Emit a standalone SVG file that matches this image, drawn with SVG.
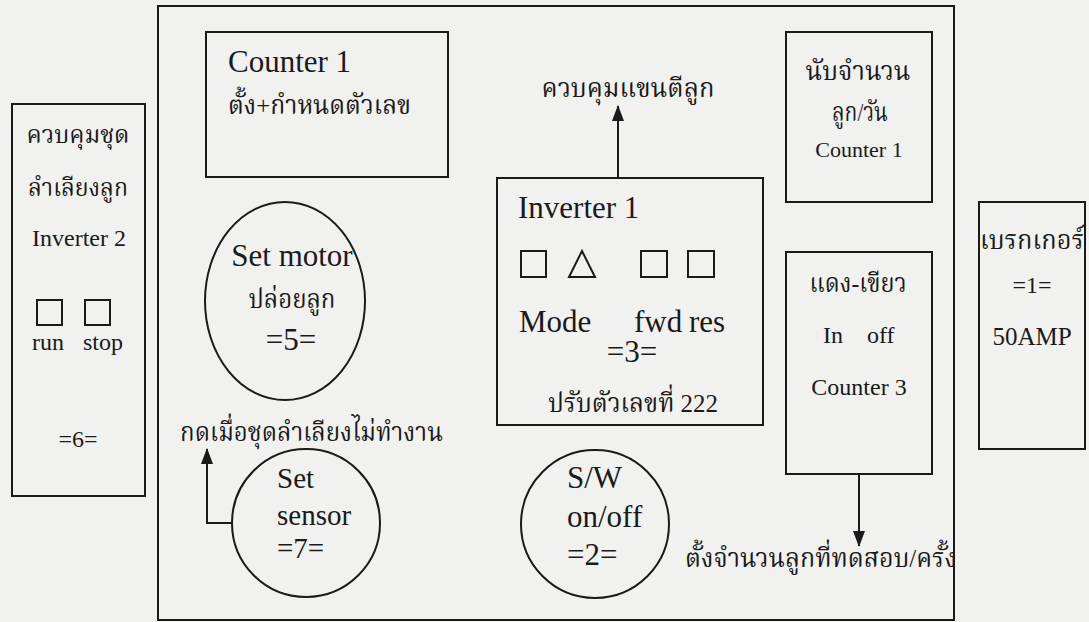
<svg xmlns="http://www.w3.org/2000/svg" width="1089" height="622" viewBox="0 0 1089 622">
<style>
.b{fill:none;stroke:#1a1a1a;stroke-width:2}
.t{font-family:"Liberation Serif","Times New Roman",serif;fill:#1a1a1a}
.th{font-family:"Liberation Serif","Noto Serif Thai","Noto Sans Thai","DejaVu Sans",serif;fill:#1a1a1a}
.c{stroke:#1a1a1a;stroke-width:2;fill:none}
</style>
<defs>
<marker id="ah" markerWidth="16" markerHeight="12" refX="15" refY="6" orient="auto" markerUnits="userSpaceOnUse" viewBox="0 0 16 12">
<path d="M0,0 L16,6 L0,12 Z" fill="#1a1a1a"/>
</marker>
</defs>
<rect width="1089" height="622" fill="#f1f1f0"/>
<g id="frame"><rect class="b" x="158" y="6" width="796" height="614"/></g>

<g id="inverter2">
<rect class="b" x="12" y="104" width="133" height="392"/>
<text class="th" x="78" y="143" font-size="24" text-anchor="middle" textLength="103" lengthAdjust="spacingAndGlyphs">ควบคุมชุด</text>
<text class="th" x="78" y="196" font-size="24" text-anchor="middle" textLength="100" lengthAdjust="spacingAndGlyphs">ลำเลียงลูก</text>
<text class="t" x="79" y="246" font-size="24" text-anchor="middle">Inverter 2</text>
<rect class="b" x="37" y="300" width="25" height="25"/>
<rect class="b" x="85" y="300" width="25" height="25"/>
<text class="t" x="32" y="350" font-size="24">run</text>
<text class="t" x="83" y="350" font-size="24">stop</text>
<text class="t" x="78" y="447" font-size="24" text-anchor="middle">=6=</text>
</g>

<g id="counter1set">
<rect class="b" x="206" y="32" width="242" height="145"/>
<text class="t" x="228" y="72" font-size="31">Counter 1</text>
<text class="th" x="228" y="114" font-size="26" textLength="183" lengthAdjust="spacingAndGlyphs">ตั้ง+กำหนดตัวเลข</text>
</g>

<g id="inverter1">
<rect class="b" x="497" y="178" width="266" height="247"/>
<text class="t" x="518" y="218" font-size="31">Inverter 1</text>
<rect class="b" x="521" y="251" width="25" height="26"/>
<path class="b" d="M582,251 L595,277 L569,277 Z"/>
<rect class="b" x="641" y="251" width="26" height="26"/>
<rect class="b" x="688" y="251" width="26" height="26"/>
<text class="t" x="519" y="332" font-size="31">Mode</text>
<text class="t" x="634" y="332" font-size="31">fwd</text>
<text class="t" x="689" y="332" font-size="31">res</text>
<text class="t" x="632" y="362" font-size="31" text-anchor="middle">=3=</text>
<text class="th" x="633" y="412" font-size="26" text-anchor="middle" textLength="170" lengthAdjust="spacingAndGlyphs">ปรับตัวเลขที่ 222</text>
</g>

<g id="counter1count">
<rect class="b" x="786" y="32" width="146" height="170"/>
<text class="th" x="858" y="80" font-size="26" text-anchor="middle" textLength="105" lengthAdjust="spacingAndGlyphs">นับจำนวน</text>
<text class="th" x="860" y="121" font-size="26" text-anchor="middle" textLength="56" lengthAdjust="spacingAndGlyphs">ลูก/วัน</text>
<text class="t" x="859" y="157" font-size="22" text-anchor="middle">Counter 1</text>
</g>

<g id="counter3">
<rect class="b" x="786" y="252" width="146" height="222"/>
<text class="th" x="858" y="292" font-size="26" text-anchor="middle" textLength="97" lengthAdjust="spacingAndGlyphs">แดง-เขียว</text>
<text class="t" x="823" y="343" font-size="24">In</text>
<text class="t" x="867" y="343" font-size="24">off</text>
<text class="t" x="859" y="395" font-size="24" text-anchor="middle">Counter 3</text>
</g>

<g id="breaker">
<rect class="b" x="979" y="202" width="106" height="247"/>
<text class="th" x="1032" y="249" font-size="26" text-anchor="middle" textLength="104" lengthAdjust="spacingAndGlyphs">เบรกเกอร์</text>
<text class="t" x="1032" y="293" font-size="24" text-anchor="middle">=1=</text>
<text class="t" x="1032" y="345" font-size="25" text-anchor="middle">50AMP</text>
</g>

<g id="setmotor">
<ellipse class="b" cx="285" cy="301" rx="80" ry="99"/>
<text class="t" x="292" y="266" font-size="31" text-anchor="middle">Set motor</text>
<text class="th" x="292" y="308" font-size="26" text-anchor="middle" textLength="87" lengthAdjust="spacingAndGlyphs">ปล่อยลูก</text>
<text class="t" x="291" y="350" font-size="31" text-anchor="middle">=5=</text>
</g>

<g id="setsensor">
<circle class="b" cx="306" cy="523" r="74"/>
<text class="t" x="277" y="488" font-size="29">Set</text>
<text class="t" x="277" y="525" font-size="29">sensor</text>
<text class="t" x="277" y="558" font-size="29">=7=</text>
</g>

<g id="switch">
<circle class="b" cx="595" cy="524" r="74"/>
<text class="t" x="567" y="488" font-size="31">S/W</text>
<text class="t" x="567" y="527" font-size="31">on/off</text>
<text class="t" x="567" y="565" font-size="31">=2=</text>
</g>

<g id="labels">
<text class="th" x="628" y="97" font-size="26" text-anchor="middle" textLength="173" lengthAdjust="spacingAndGlyphs">ควบคุมแขนตีลูก</text>
<text class="th" x="180" y="441" font-size="26" textLength="263" lengthAdjust="spacingAndGlyphs">กดเมื่อชุดลำเลียงไม่ทำงาน</text>
<text class="th" x="685" y="567" font-size="26" textLength="272" lengthAdjust="spacingAndGlyphs">ตั้งจำนวนลูกที่ทดสอบ/ครั้ง</text>
</g>

<g id="connectors">
<path class="c" d="M618,178 L618,106" marker-end="url(#ah)"/>
<path class="c" d="M232,523 L207,523 L207,449" marker-end="url(#ah)"/>
<path class="c" d="M859,474 L859,546" marker-end="url(#ah)"/>
</g>
</svg>
